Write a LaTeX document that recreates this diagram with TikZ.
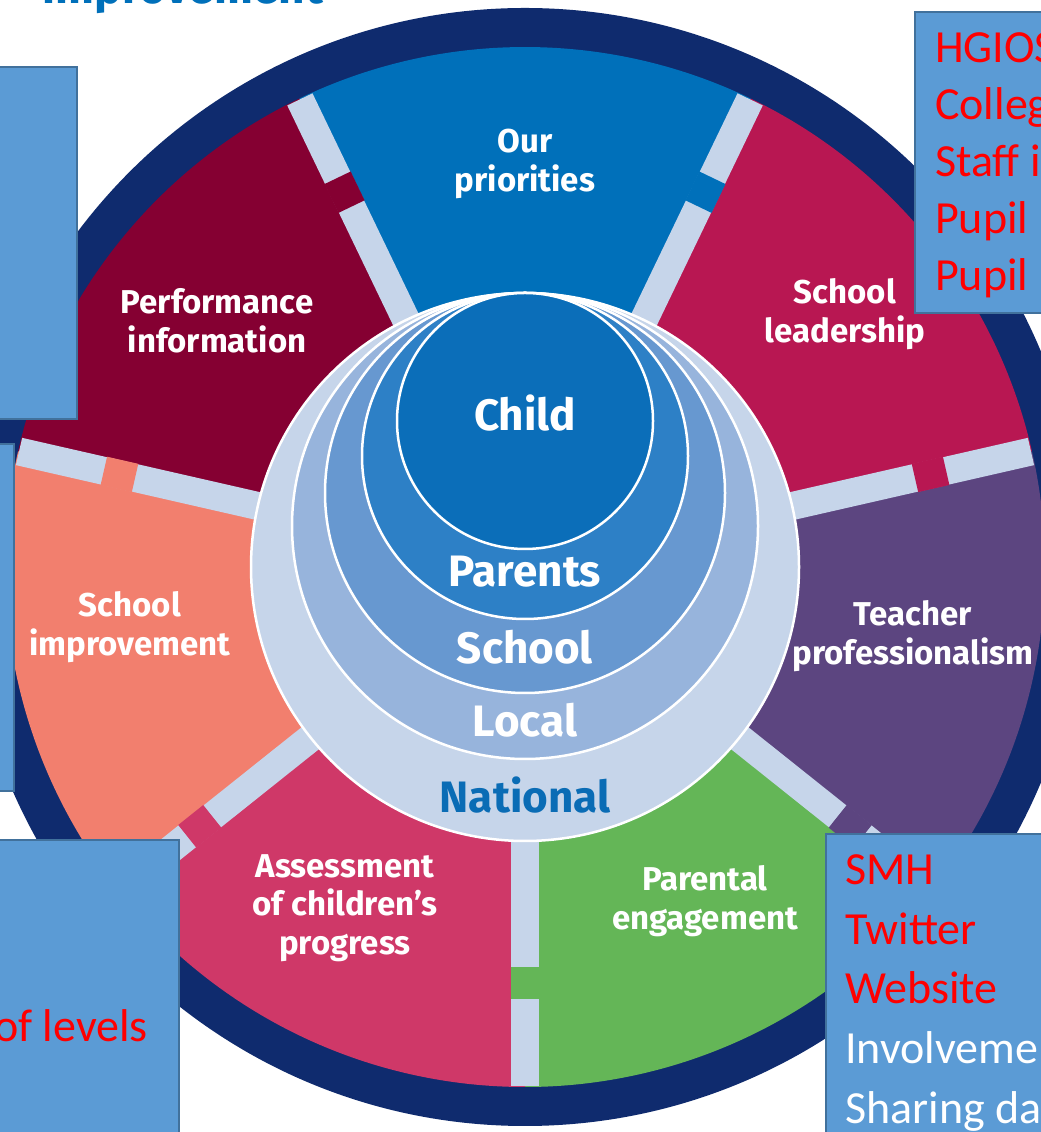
\documentclass[tikz,border=0pt]{standalone}
\usepackage{fontspec}
\setmainfont{Carlito}
\setsansfont{Fira Sans}
\usetikzlibrary{positioning}

\definecolor{navy}{HTML}{0F2B6E}
\definecolor{prio}{HTML}{0070BA}
\definecolor{perf}{HTML}{850032}
\definecolor{lead}{HTML}{B81752}
\definecolor{teach}{HTML}{5C4580}
\definecolor{engage}{HTML}{64B657}
\definecolor{assess}{HTML}{CF3868}
\definecolor{improve}{HTML}{F27F6E}
\definecolor{gapblue}{HTML}{C6D5EA}
\definecolor{childblue}{HTML}{0B6EB9}
\definecolor{parentblue}{HTML}{2D80C6}
\definecolor{schoolblue}{HTML}{6798D0}
\definecolor{localblue}{HTML}{97B4DC}
\definecolor{natblue}{HTML}{0A6CB5}
\definecolor{boxblue}{HTML}{5B9BD5}
\definecolor{boxedge}{HTML}{41719C}

\begin{document}
\begin{tikzpicture}[x=1pt,y=1pt,
    ring/.style={circle,draw=white,line width=2.5pt,inner sep=0pt,outer sep=0pt},
    ring label/.style={font=\sffamily\bfseries\fontsize{44}{52}\selectfont,text=white},
    wheel label/.style={font=\sffamily\bfseries\fontsize{33}{38.5}\selectfont,text=white,align=center},
    note box/.style={draw=boxedge,line width=2pt,fill=boxblue,inner sep=0pt},
    note text/.style={font=\fontsize{46}{57}\selectfont,text=red,inner sep=0pt}]

  \useasboundingbox (0,0) rectangle (1041,1132);
  \clip (0,0) rectangle (1041,1132);
  \fill[white] (0,0) rectangle (1041,1132);

  \coordinate (O) at (525,565);

  % heading, cut off at the top
  \node[font=\sffamily\bfseries\fontsize{46}{55}\selectfont,text=prio,anchor=base east,inner sep=0pt] (heading) at (323,1128) {improvement};

  % outer ring and the seven parts
  \fill[navy] (O) circle[radius=559];
  \foreach \a/\c in {-90/engage,-38.57/teach,12.86/lead,64.29/prio,115.71/perf,167.14/improve,218.57/assess}
    \fill[\c] (O) -- ++(\a:520) arc[start angle=\a,delta angle=51.43,radius=520] -- cycle;

  % dividers with their notch
  \foreach \a/\c in {-90/engage,-38.57/teach,12.86/lead,64.29/prio,115.71/perf,167.14/improve,218.57/assess}{
    \begin{scope}[shift={(O)},rotate=\a]
      \fill[gapblue] (250,-14) rectangle (519,14);
      \fill[\c] (400,-14.5) rectangle (432,14.5);
    \end{scope}
  }

  % nested circles
  \node[ring,fill=gapblue,minimum size=548] (national) at (525,565) {};
  \node[ring,fill=localblue,minimum size=466] (local) at (525,606) {};
  \node[ring,fill=schoolblue,minimum size=400] (school) at (525,639) {};
  \node[ring,fill=parentblue,minimum size=326] (parents) at (525,676) {};
  \node[ring,fill=childblue,minimum size=256] (child) at (525,711) {};

  \node[ring label] (childtxt) at (525,719) {Child};
  \node[ring label] (parentstxt) at (525,560) {Parents};
  \node[ring label] (schooltxt) at (525,485) {School};
  \node[ring label] (localtxt) at (525,412) {Local};
  \node[ring label,text=natblue] (nationaltxt) at (525,337) {National};

  % part labels
  \node[wheel label] (priotxt) at (525,968) {Our\\priorities};
  \node[wheel label] (perftxt) at (217,811) {Performance\\information};
  \node[wheel label] (leadtxt) at (845,818) {School\\leadership};
  \node[wheel label] (improvetxt) at (130,505) {School\\improvement};
  \node[wheel label] (teachtxt) at (913,496) {Teacher\\professionalism};
  \node[wheel label] (engagetxt) at (705,231) {Parental\\engagement};
  \node[wheel label] (assesstxt) at (345,224) {Assessment\\of children's\\progress};

  % notes laid over the wheel
  \node[note box,minimum width=88,minimum height=352,anchor=north east] (tlbox) at (78,1066) {};
  \node[note box,minimum width=30,minimum height=347,anchor=north east] (mlbox) at (15,689) {};
  \node[note box,minimum width=200,minimum height=310,anchor=north east] (blbox) at (180,293) {};
  \node[note box,minimum width=150,minimum height=301,anchor=north west] (trbox) at (914,1121) {};
  \node[note box,minimum width=230,minimum height=310,anchor=north west] (brbox) at (825,299) {};

  \foreach \t [count=\i] in {HGIOS,Colleg,Staff i,Pupil,Pupil}
    \node[note text,anchor=base west] (tr\i) at (935,{1069-57*(\i-1)}) {\t};
  \foreach \t/\c [count=\i] in {SMH/red,Twitter/red,Website/red,Involvement/white,Sharing data/white}
    \node[note text,text=\c,anchor=base west] (br\i) at (845,{247-59.5*(\i-1)}) {\t};
  \node[note text,anchor=base east] (bl1) at (148,90) {of levels};

\end{tikzpicture}
\end{document}
